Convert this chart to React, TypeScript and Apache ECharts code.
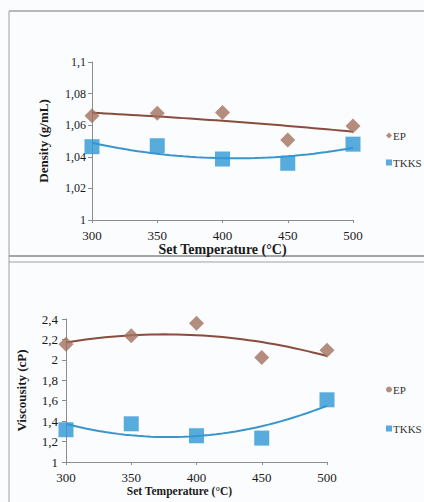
import React, { useEffect, useRef } from "react";
import * as echarts from "echarts";

const temperatures = [300, 350, 400, 450, 500];
const densityEP = [1.066, 1.0675, 1.068, 1.0506, 1.0595];
const densityTKKS = [1.0464, 1.047, 1.0386, 1.0359, 1.048];
const viscosityEP = [2.153, 2.237, 2.358, 2.022, 2.094];
const viscosityTKKS = [1.316, 1.374, 1.257, 1.234, 1.609];
const seriesNames = ["EP", "TKKS"];

// Least-squares quadratic trendline (like a spreadsheet polynomial trendline of order 2)
function quadFit(xs: number[], ys: number[]) {
  const n = xs.length;
  let s0 = n, s1 = 0, s2 = 0, s3 = 0, s4 = 0, t0 = 0, t1 = 0, t2 = 0;
  for (let i = 0; i < n; i++) {
    const x = xs[i], y = ys[i];
    s1 += x; s2 += x * x; s3 += x * x * x; s4 += x * x * x * x;
    t0 += y; t1 += x * y; t2 += x * x * y;
  }
  const A = [
    [s0, s1, s2, t0],
    [s1, s2, s3, t1],
    [s2, s3, s4, t2],
  ];
  for (let c = 0; c < 3; c++) {
    let p = c;
    for (let r = c + 1; r < 3; r++) if (Math.abs(A[r][c]) > Math.abs(A[p][c])) p = r;
    [A[c], A[p]] = [A[p], A[c]];
    for (let r = 0; r < 3; r++) {
      if (r === c) continue;
      const f = A[r][c] / A[c][c];
      for (let k = c; k < 4; k++) A[r][k] -= f * A[c][k];
    }
  }
  const a = A[0][3] / A[0][0], b = A[1][3] / A[1][1], cc = A[2][3] / A[2][2];
  return (x: number) => a + b * x + cc * x * x;
}

function trend(xs: number[], ys: number[]) {
  const xc = xs.map((x) => (x - 400) / 100);
  const f = quadFit(xc, ys);
  const out: number[][] = [];
  for (let t = xs[0]; t <= xs[xs.length - 1]; t += 5) out.push([t, f((t - 400) / 100)]);
  return out;
}

const pairs = (ys: number[]) => temperatures.map((t, i) => [t, ys[i]]);

const EP_MARK = "#a3705e";
const EP_LINE = "#8a4c3e";
const TK_MARK = "#2f97d4";
const TK_LINE = "#3a95cc";
const FONT = "Liberation Serif";
const TXT = "#1a1a1a";

const fmt = (v: number) => String(Number(v.toFixed(2))).replace(".", ",");

export default function App() {
  const ref = useRef<HTMLDivElement>(null);
  useEffect(() => {
    if (!ref.current) return;
    const chart = echarts.init(ref.current, null, { renderer: "svg" });
    const axisLine = { show: true, lineStyle: { color: "#8c8c8c", width: 1 } };
    const xAxisBase = (gridIndex: number, nameGap: number, nameSize: number, padding: number[], labelSize: number) => ({
      type: "value",
      gridIndex,
      min: 300,
      max: 500,
      interval: 50,
      name: "Set Temperature (°C)",
      nameLocation: "middle",
      nameGap,
      nameTextStyle: { fontFamily: FONT, fontWeight: "bold", fontSize: nameSize, color: TXT, padding },
      axisLine,
      axisTick: { show: true, length: 3, lineStyle: { color: "#8c8c8c" } },
      axisLabel: { fontFamily: FONT, fontSize: labelSize, color: TXT, margin: 9 },
      splitLine: { show: false },
    });
    chart.setOption({
      animation: false,
      backgroundColor: "#fafcfd",
      grid: [
        { left: 92, right: 71, top: 62, bottom: 282 },
        { left: 66, right: 97, top: 319, bottom: 40 },
      ],
      xAxis: [xAxisBase(0, 22, 14, [0, 0, 0, 0], 13), xAxisBase(1, 23, 11.5, [0, 34, 0, 0], 13)],
      yAxis: [
        {
          type: "value",
          gridIndex: 0,
          min: 1,
          max: 1.1,
          interval: 0.02,
          name: "Density (g/mL)",
          nameLocation: "middle",
          nameGap: 42,
          nameTextStyle: { fontFamily: FONT, fontWeight: "bold", fontSize: 13, color: TXT },
          axisLine,
          axisTick: { show: true, length: 4, lineStyle: { color: "#8c8c8c" } },
          axisLabel: { fontFamily: FONT, fontSize: 12, color: TXT, margin: 6, formatter: fmt },
          splitLine: { show: false },
        },
        {
          type: "value",
          gridIndex: 1,
          min: 1,
          max: 2.4,
          interval: 0.2,
          name: "Viscousity (cP)",
          nameLocation: "middle",
          nameGap: 38,
          nameTextStyle: { fontFamily: FONT, fontWeight: "bold", fontSize: 13, color: TXT },
          axisLine,
          axisTick: { show: true, length: 4, lineStyle: { color: "#8c8c8c" } },
          axisLabel: { fontFamily: FONT, fontSize: 13, color: TXT, margin: 8, formatter: fmt },
          splitLine: { show: false },
        },
      ],
      legend: [
        {
          orient: "vertical",
          left: 381,
          top: 125,
          itemWidth: 6,
          itemHeight: 6,
          itemGap: 16,
          textStyle: { fontFamily: FONT, fontSize: 11, color: "#333", padding: [0, 0, 0, -4] },
          data: [
            { name: seriesNames[0], icon: "diamond", itemStyle: { color: EP_MARK } },
            { name: seriesNames[1], icon: "rect", itemStyle: { color: TK_MARK } },
          ],
        },
        {
          orient: "vertical",
          left: 381,
          top: 379,
          itemWidth: 6,
          itemHeight: 6,
          itemGap: 28,
          textStyle: { fontFamily: FONT, fontSize: 11, color: "#333", padding: [0, 0, 0, -4] },
          data: [
            { name: seriesNames[0], icon: "circle", itemStyle: { color: EP_MARK } },
            { name: seriesNames[1], icon: "rect", itemStyle: { color: TK_MARK } },
          ],
        },
      ],
      series: [
        { name: "EP trend", type: "line", xAxisIndex: 0, yAxisIndex: 0, data: trend(temperatures, densityEP), showSymbol: false, lineStyle: { color: EP_LINE, width: 2 }, z: 1 },
        { name: "TKKS trend", type: "line", xAxisIndex: 0, yAxisIndex: 0, data: trend(temperatures, densityTKKS), showSymbol: false, lineStyle: { color: TK_LINE, width: 2 }, z: 1 },
        { name: seriesNames[0], type: "scatter", xAxisIndex: 0, yAxisIndex: 0, data: pairs(densityEP), symbol: "diamond", symbolSize: 15, itemStyle: { color: EP_MARK }, z: 2 },
        { name: seriesNames[1], type: "scatter", xAxisIndex: 0, yAxisIndex: 0, data: pairs(densityTKKS), symbol: "rect", symbolSize: 15, itemStyle: { color: TK_MARK }, z: 2 },
        { name: "EP trend2", type: "line", xAxisIndex: 1, yAxisIndex: 1, data: trend(temperatures, viscosityEP), showSymbol: false, lineStyle: { color: EP_LINE, width: 2 }, z: 1 },
        { name: "TKKS trend2", type: "line", xAxisIndex: 1, yAxisIndex: 1, data: trend(temperatures, viscosityTKKS), showSymbol: false, lineStyle: { color: TK_LINE, width: 2 }, z: 1 },
        { name: seriesNames[0], type: "scatter", xAxisIndex: 1, yAxisIndex: 1, data: pairs(viscosityEP), symbol: "diamond", symbolSize: 15, itemStyle: { color: EP_MARK }, z: 2 },
        { name: seriesNames[1], type: "scatter", xAxisIndex: 1, yAxisIndex: 1, data: pairs(viscosityTKKS), symbol: "rect", symbolSize: 15, itemStyle: { color: TK_MARK }, z: 2 },
      ],
      graphic: [
        { type: "line", shape: { x1: 9, y1: 11, x2: 424, y2: 11 }, style: { stroke: "#a0a0a0", lineWidth: 1.5 } },
        { type: "line", shape: { x1: 9, y1: 11, x2: 9, y2: 502 }, style: { stroke: "#a0a0a0", lineWidth: 1 } },
        { type: "line", shape: { x1: 9, y1: 256, x2: 424, y2: 256 }, style: { stroke: "#8a8a8a", lineWidth: 1.5 } },
        { type: "line", shape: { x1: 9, y1: 262, x2: 424, y2: 262 }, style: { stroke: "#a0a0a0", lineWidth: 1 } },
      ],
    });
    return () => chart.dispose();
  }, []);
  return <div ref={ref} style={{ position: "fixed", left: 0, top: 0, width: 424, height: 502 }} />;
}
